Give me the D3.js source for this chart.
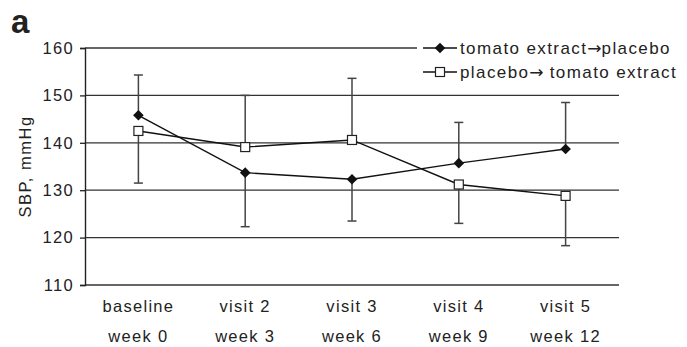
<!DOCTYPE html>
<html>
<head>
<meta charset="utf-8">
<script src="https://cdn.jsdelivr.net/npm/d3@7"></script>
<style>
	body { margin: 0; background: #fff; }
	text { font-family: "Liberation Sans", Arial, Helvetica, sans-serif; fill: #222; }
	.arrow { font-family: "DejaVu Sans", sans-serif; }
</style>
</head>
<body>
<div id="chart"></div>
<script>
//visits and week labels along the x axis
var visits = ["baseline", "visit 2", "visit 3", "visit 4", "visit 5"];
var weeks = ["week 0", "week 3", "week 6", "week 9", "week 12"];
var yTicks = [110, 120, 130, 140, 150, 160];

//mean SBP per visit
var tomatoFirst = [145.8, 133.7, 132.3, 135.7, 138.7];
var placeboFirst = [142.5, 139.1, 140.6, 131.2, 128.8];

//error bar ends (only one side drawn per point, null = none)
var tomatoFirstUpper = [154.3, null, null, 144.3, 148.5];
var tomatoFirstLower = [null, 122.3, 123.5, null, null];
var placeboFirstUpper = [null, 150.0, 153.6, null, null];
var placeboFirstLower = [131.5, null, null, 123.0, 118.3];

//legend labels, split round the arrow
var seriesBefore = ["tomato extract", "placebo"];
var seriesAfter = ["placebo", " tomato extract"];

var width = 687;
var height = 347;
var plotLeft = 85, plotRight = 619, plotTop = 48, plotBottom = 285;

var svg = d3.select("#chart").append("svg")
	.attr("width", width)
	.attr("height", height);

var x = d3.scalePoint()
	.domain(visits)
	.range([plotLeft, plotRight])
	.padding(0.5);

var y = d3.scaleLinear()
	.domain([110, 160])
	.range([plotBottom, plotTop]);

//horizontal grid lines
svg.append("g")
	.selectAll("line")
	.data(yTicks)
	.enter().append("line")
	.attr("x1", plotLeft)
	.attr("x2", plotRight)
	.attr("y1", d => y(d))
	.attr("y2", d => y(d))
	.style("stroke", "#333")
	.style("stroke-width", 1.3);

//y axis with ticks to the left
var yAxis = svg.append("g")
	.attr("transform", "translate(" + plotLeft + ",0)")
	.call(d3.axisLeft(y).tickValues(yTicks).tickSize(5).tickPadding(6));
yAxis.select(".domain").style("stroke", "#222").style("stroke-width", 1.4);
yAxis.selectAll(".tick line").style("stroke", "#222").style("stroke-width", 1.3);
yAxis.attr("font-family", null).attr("font-size", null);
yAxis.selectAll(".tick text")
	.style("font-size", "16.5px")
	.style("letter-spacing", "1.3px")
	.attr("fill", "#222");

//x labels on two lines
visits.forEach(function(v, i)
{
	svg.append("text")
		.attr("x", x(v))
		.attr("y", 312)
		.attr("text-anchor", "middle")
		.style("font-size", "16.5px")
		.style("letter-spacing", "1.3px")
		.text(v);
	svg.append("text")
		.attr("x", x(v))
		.attr("y", 342)
		.attr("text-anchor", "middle")
		.style("font-size", "16.5px")
		.style("letter-spacing", "1.3px")
		.text(weeks[i]);
});

//y axis title
svg.append("text")
	.attr("transform", "translate(31," + ((plotTop + plotBottom) / 2) + ") rotate(-90)")
	.attr("text-anchor", "middle")
	.style("font-size", "16.5px")
	.style("letter-spacing", "1.5px")
	.text("SBP, mmHg");

//panel letter
svg.append("text")
	.attr("x", 11)
	.attr("y", 33)
	.style("font-size", "33px")
	.style("font-weight", "bold")
	.text("a");

//error bars
function drawErrors(means, ends)
{
	var g = svg.append("g");
	ends.forEach(function(e, i)
	{
		if(e === null) return;
		var cx = x(visits[i]);
		g.append("line")
			.attr("x1", cx).attr("x2", cx)
			.attr("y1", y(means[i])).attr("y2", y(e))
			.style("stroke", "#444")
			.style("stroke-width", 1.5);
		g.append("line")
			.attr("x1", cx - 4.5).attr("x2", cx + 4.5)
			.attr("y1", y(e)).attr("y2", y(e))
			.style("stroke", "#444")
			.style("stroke-width", 1.5);
	});
}
drawErrors(tomatoFirst, tomatoFirstUpper);
drawErrors(tomatoFirst, tomatoFirstLower);
drawErrors(placeboFirst, placeboFirstUpper);
drawErrors(placeboFirst, placeboFirstLower);

var line = d3.line()
	.x((d, i) => x(visits[i]))
	.y(d => y(d));

//series lines
[tomatoFirst, placeboFirst].forEach(function(s)
{
	svg.append("path")
		.datum(s)
		.attr("d", line)
		.style("fill", "none")
		.style("stroke", "#111")
		.style("stroke-width", 1.4);
});

var diamond = d3.symbol().type(d3.symbolDiamond2).size(72);

function drawDiamond(g, cx, cy)
{
	g.append("path")
		.attr("d", diamond())
		.attr("transform", "translate(" + cx + "," + cy + ")")
		.style("fill", "#111");
}

function drawSquare(g, cx, cy)
{
	g.append("rect")
		.attr("x", cx - 4.5)
		.attr("y", cy - 4.5)
		.attr("width", 9)
		.attr("height", 9)
		.style("fill", "#fff")
		.style("stroke", "#222")
		.style("stroke-width", 1.2);
}

var marks = svg.append("g");
tomatoFirst.forEach(function(d, i) { drawDiamond(marks, x(visits[i]), y(d)); });
placeboFirst.forEach(function(d, i) { drawSquare(marks, x(visits[i]), y(d)); });

//legend with white box over the top grid line
var legend = svg.append("g");
legend.append("rect")
	.attr("x", 417)
	.attr("y", 34)
	.attr("width", 270)
	.attr("height", 52)
	.style("fill", "#fff");

var legendY = [48, 72];
legendY.forEach(function(ly, i)
{
	legend.append("line")
		.attr("x1", 423).attr("x2", 457)
		.attr("y1", ly).attr("y2", ly)
		.style("stroke", "#111")
		.style("stroke-width", 1.4);
	if(i === 0) drawDiamond(legend, 440, ly);
	else drawSquare(legend, 440, ly);
	var t = legend.append("text")
		.attr("x", 460)
		.attr("y", ly + 6)
		.style("font-size", "17px")
		.style("letter-spacing", "1.4px");
	t.append("tspan").text(seriesBefore[i]);
	t.append("tspan").attr("class", "arrow").style("letter-spacing", "0px").text("\u2192");
	t.append("tspan").text(seriesAfter[i]);
});
</script>
</body>
</html>
